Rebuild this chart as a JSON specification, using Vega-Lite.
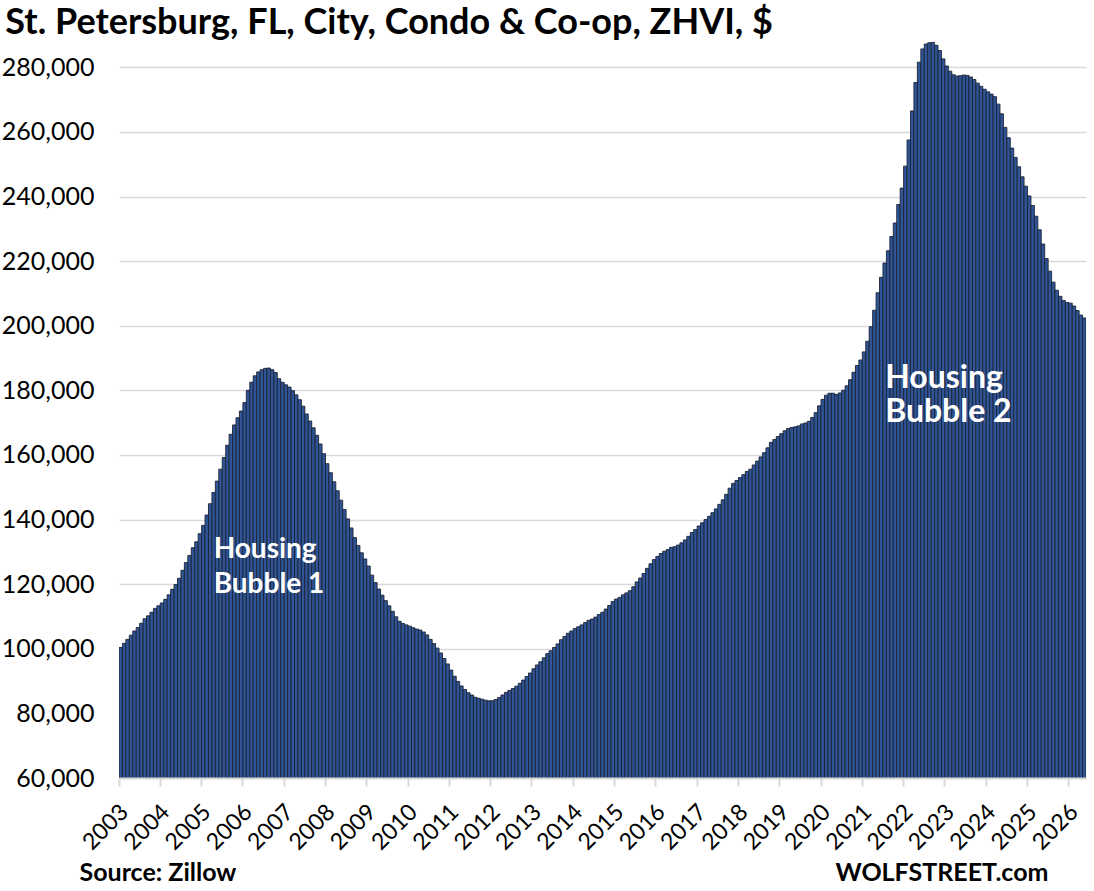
{
  "$schema": "https://vega.github.io/schema/vega-lite/v6.json",
  "description": "St. Petersburg, FL condo & co-op ZHVI, monthly bars",
  "background": "white",
  "autosize": {"type": "none"},
  "padding": {"left": 119, "top": 35, "right": 8, "bottom": 113},
  "width": 967,
  "height": 743,
  "title": {
    "text": "St. Petersburg, FL, City, Condo & Co-op, ZHVI, $",
    "font": "Lato",
    "fontSize": 36,
    "fontWeight": "bold",
    "color": "black",
    "anchor": "start",
    "frame": "bounds",
    "baseline": "alphabetic",
    "offset": 3,
    "dx": 4,
    "dy": 38
  },
  "config": {
    "view": {"stroke": null},
    "font": "Lato"
  },
  "layer": [
    {
      "data": {
        "values": [
          {"m":"2003-01","v":100400},{"m":"2003-02","v":101700},{"m":"2003-03","v":102900},{"m":"2003-04","v":104200},{"m":"2003-05","v":105500},{"m":"2003-06","v":106600},{"m":"2003-07","v":107900},{"m":"2003-08","v":109300},{"m":"2003-09","v":110200},{"m":"2003-10","v":111300},{"m":"2003-11","v":112500},{"m":"2003-12","v":113300},
          {"m":"2004-01","v":114200},{"m":"2004-02","v":115300},{"m":"2004-03","v":116700},{"m":"2004-04","v":118400},{"m":"2004-05","v":119900},{"m":"2004-06","v":121800},{"m":"2004-07","v":124300},{"m":"2004-08","v":126700},{"m":"2004-09","v":128900},{"m":"2004-10","v":131300},{"m":"2004-11","v":133100},{"m":"2004-12","v":135600},
          {"m":"2005-01","v":138200},{"m":"2005-02","v":141400},{"m":"2005-03","v":144900},{"m":"2005-04","v":148400},{"m":"2005-05","v":151900},{"m":"2005-06","v":155600},{"m":"2005-07","v":159200},{"m":"2005-08","v":163000},{"m":"2005-09","v":166400},{"m":"2005-10","v":169300},{"m":"2005-11","v":171500},{"m":"2005-12","v":173600},
          {"m":"2006-01","v":176200},{"m":"2006-02","v":180000},{"m":"2006-03","v":182500},{"m":"2006-04","v":184500},{"m":"2006-05","v":185700},{"m":"2006-06","v":186400},{"m":"2006-07","v":186800},{"m":"2006-08","v":186900},{"m":"2006-09","v":186400},{"m":"2006-10","v":185500},{"m":"2006-11","v":183600},{"m":"2006-12","v":182500},
          {"m":"2007-01","v":181700},{"m":"2007-02","v":181000},{"m":"2007-03","v":179900},{"m":"2007-04","v":178600},{"m":"2007-05","v":177100},{"m":"2007-06","v":175100},{"m":"2007-07","v":172700},{"m":"2007-08","v":170500},{"m":"2007-09","v":168400},{"m":"2007-10","v":166100},{"m":"2007-11","v":163400},{"m":"2007-12","v":160400},
          {"m":"2008-01","v":157300},{"m":"2008-02","v":154500},{"m":"2008-03","v":151700},{"m":"2008-04","v":148900},{"m":"2008-05","v":146000},{"m":"2008-06","v":143100},{"m":"2008-07","v":140200},{"m":"2008-08","v":137400},{"m":"2008-09","v":134400},{"m":"2008-10","v":132000},{"m":"2008-11","v":129700},{"m":"2008-12","v":127800},
          {"m":"2009-01","v":125600},{"m":"2009-02","v":122800},{"m":"2009-03","v":120500},{"m":"2009-04","v":118500},{"m":"2009-05","v":116600},{"m":"2009-06","v":114900},{"m":"2009-07","v":113300},{"m":"2009-08","v":111600},{"m":"2009-09","v":109900},{"m":"2009-10","v":108500},{"m":"2009-11","v":107800},{"m":"2009-12","v":107400},
          {"m":"2010-01","v":107000},{"m":"2010-02","v":106500},{"m":"2010-03","v":106100},{"m":"2010-04","v":105800},{"m":"2010-05","v":105200},{"m":"2010-06","v":104300},{"m":"2010-07","v":102900},{"m":"2010-08","v":101600},{"m":"2010-09","v":100200},{"m":"2010-10","v":98700},{"m":"2010-11","v":97000},{"m":"2010-12","v":95300},
          {"m":"2011-01","v":93400},{"m":"2011-02","v":91500},{"m":"2011-03","v":89900},{"m":"2011-04","v":88500},{"m":"2011-05","v":87400},{"m":"2011-06","v":86400},{"m":"2011-07","v":85700},{"m":"2011-08","v":85000},{"m":"2011-09","v":84700},{"m":"2011-10","v":84400},{"m":"2011-11","v":84100},{"m":"2011-12","v":83900},
          {"m":"2012-01","v":83900},{"m":"2012-02","v":84300},{"m":"2012-03","v":84900},{"m":"2012-04","v":85700},{"m":"2012-05","v":86500},{"m":"2012-06","v":87100},{"m":"2012-07","v":87700},{"m":"2012-08","v":88400},{"m":"2012-09","v":89300},{"m":"2012-10","v":90300},{"m":"2012-11","v":91400},{"m":"2012-12","v":92500},
          {"m":"2013-01","v":93800},{"m":"2013-02","v":95000},{"m":"2013-03","v":96000},{"m":"2013-04","v":97200},{"m":"2013-05","v":98500},{"m":"2013-06","v":99400},{"m":"2013-07","v":100400},{"m":"2013-08","v":101500},{"m":"2013-09","v":102800},{"m":"2013-10","v":103800},{"m":"2013-11","v":104800},{"m":"2013-12","v":105500},
          {"m":"2014-01","v":106300},{"m":"2014-02","v":106800},{"m":"2014-03","v":107400},{"m":"2014-04","v":108100},{"m":"2014-05","v":108800},{"m":"2014-06","v":109200},{"m":"2014-07","v":109800},{"m":"2014-08","v":110600},{"m":"2014-09","v":111300},{"m":"2014-10","v":112300},{"m":"2014-11","v":113400},{"m":"2014-12","v":114600},
          {"m":"2015-01","v":115400},{"m":"2015-02","v":115900},{"m":"2015-03","v":116700},{"m":"2015-04","v":117300},{"m":"2015-05","v":118000},{"m":"2015-06","v":119200},{"m":"2015-07","v":120700},{"m":"2015-08","v":121900},{"m":"2015-09","v":123300},{"m":"2015-10","v":124900},{"m":"2015-11","v":126300},{"m":"2015-12","v":127600},
          {"m":"2016-01","v":128600},{"m":"2016-02","v":129500},{"m":"2016-03","v":130200},{"m":"2016-04","v":130700},{"m":"2016-05","v":131400},{"m":"2016-06","v":131600},{"m":"2016-07","v":132100},{"m":"2016-08","v":132800},{"m":"2016-09","v":133700},{"m":"2016-10","v":134800},{"m":"2016-11","v":136000},{"m":"2016-12","v":136900},
          {"m":"2017-01","v":138000},{"m":"2017-02","v":139000},{"m":"2017-03","v":140000},{"m":"2017-04","v":141000},{"m":"2017-05","v":142100},{"m":"2017-06","v":143300},{"m":"2017-07","v":144700},{"m":"2017-08","v":146100},{"m":"2017-09","v":147800},{"m":"2017-10","v":149700},{"m":"2017-11","v":151200},{"m":"2017-12","v":152100},
          {"m":"2018-01","v":153000},{"m":"2018-02","v":153900},{"m":"2018-03","v":154900},{"m":"2018-04","v":155600},{"m":"2018-05","v":156900},{"m":"2018-06","v":158100},{"m":"2018-07","v":159400},{"m":"2018-08","v":160700},{"m":"2018-09","v":162200},{"m":"2018-10","v":163900},{"m":"2018-11","v":164800},{"m":"2018-12","v":165700},
          {"m":"2019-01","v":166600},{"m":"2019-02","v":167500},{"m":"2019-03","v":168200},{"m":"2019-04","v":168500},{"m":"2019-05","v":168700},{"m":"2019-06","v":169000},{"m":"2019-07","v":169600},{"m":"2019-08","v":169900},{"m":"2019-09","v":170400},{"m":"2019-10","v":171600},{"m":"2019-11","v":173100},{"m":"2019-12","v":175200},
          {"m":"2020-01","v":177200},{"m":"2020-02","v":178500},{"m":"2020-03","v":179100},{"m":"2020-04","v":179100},{"m":"2020-05","v":178700},{"m":"2020-06","v":179200},{"m":"2020-07","v":180000},{"m":"2020-08","v":181400},{"m":"2020-09","v":183300},{"m":"2020-10","v":185600},{"m":"2020-11","v":187700},{"m":"2020-12","v":189400},
          {"m":"2021-01","v":191900},{"m":"2021-02","v":195200},{"m":"2021-03","v":199700},{"m":"2021-04","v":204800},{"m":"2021-05","v":210200},{"m":"2021-06","v":215000},{"m":"2021-07","v":219400},{"m":"2021-08","v":223200},{"m":"2021-09","v":227600},{"m":"2021-10","v":231800},{"m":"2021-11","v":237500},{"m":"2021-12","v":242600},
          {"m":"2022-01","v":249400},{"m":"2022-02","v":257500},{"m":"2022-03","v":266500},{"m":"2022-04","v":275300},{"m":"2022-05","v":281600},{"m":"2022-06","v":285700},{"m":"2022-07","v":287200},{"m":"2022-08","v":287600},{"m":"2022-09","v":287700},{"m":"2022-10","v":286800},{"m":"2022-11","v":285200},{"m":"2022-12","v":282600},
          {"m":"2023-01","v":280400},{"m":"2023-02","v":278800},{"m":"2023-03","v":277700},{"m":"2023-04","v":277300},{"m":"2023-05","v":277400},{"m":"2023-06","v":277600},{"m":"2023-07","v":277500},{"m":"2023-08","v":277000},{"m":"2023-09","v":276200},{"m":"2023-10","v":275100},{"m":"2023-11","v":274100},{"m":"2023-12","v":273200},
          {"m":"2024-01","v":272400},{"m":"2024-02","v":271700},{"m":"2024-03","v":270900},{"m":"2024-04","v":268600},{"m":"2024-05","v":265600},{"m":"2024-06","v":261400},{"m":"2024-07","v":258200},{"m":"2024-08","v":255000},{"m":"2024-09","v":252100},{"m":"2024-10","v":249200},{"m":"2024-11","v":246100},{"m":"2024-12","v":243200},
          {"m":"2025-01","v":240200},{"m":"2025-02","v":237200},{"m":"2025-03","v":233900},{"m":"2025-04","v":229700},{"m":"2025-05","v":225300},{"m":"2025-06","v":220800},{"m":"2025-07","v":216900},{"m":"2025-08","v":213500},{"m":"2025-09","v":211000},{"m":"2025-10","v":209100},{"m":"2025-11","v":207800},{"m":"2025-12","v":207200},
          {"m":"2026-01","v":207000},{"m":"2026-02","v":206100},{"m":"2026-03","v":204700},{"m":"2026-04","v":203300},{"m":"2026-05","v":202400}
        ]
      },
      "mark": {"type": "bar", "fill": "#2f5597", "stroke": "#1c2333", "strokeWidth": 0.9, "clip": true},
      "encoding": {
        "x": {
          "field": "m",
          "type": "ordinal",
          "sort": "ascending",
          "scale": {"paddingInner": 0, "paddingOuter": 0},
          "axis": {
            "values": ["2003-01","2004-01","2005-01","2006-01","2007-01","2008-01","2009-01","2010-01","2011-01","2012-01","2013-01","2014-01","2015-01","2016-01","2017-01","2018-01","2019-01","2020-01","2021-01","2022-01","2023-01","2024-01","2025-01","2026-01"],
            "labelExpr": "substring(datum.value, 0, 4)",
            "bandPosition": 0,
            "labelAngle": -45,
            "labelAlign": "right",
            "labelBaseline": "middle",
            "labelFontSize": 23,
            "labelColor": "black",
            "labelPadding": 22,
            "labelOffset": 4,
            "domainColor": "#d9d9d9",
            "domainWidth": 2,
            "tickColor": "#d9d9d9",
            "tickWidth": 2,
            "tickSize": 8,
            "grid": false,
            "zindex": 1,
            "title": "Source: Zillow",
            "titleFont": "Lato",
            "titleFontSize": 25,
            "titleFontWeight": "bold",
            "titleColor": "black",
            "titleAlign": "left",
            "titleBaseline": "alphabetic",
            "titleX": -40,
            "titleY": 102
          }
        },
        "y": {
          "field": "v",
          "type": "quantitative",
          "scale": {"domain": [60000, 290000], "nice": false, "zero": false},
          "axis": {
            "values": [60000, 80000, 100000, 120000, 140000, 160000, 180000, 200000, 220000, 240000, 260000, 280000],
            "format": ",.0f",
            "labelFontSize": 25,
            "labelColor": "black",
            "labelPadding": 25,
            "ticks": false,
            "domain": false,
            "gridColor": "#d9d9d9",
            "gridWidth": 1.5,
            "title": "WOLFSTREET.com",
            "titleAngle": 0,
            "titleFont": "Lato",
            "titleFontSize": 25,
            "titleFontWeight": "bold",
            "titleColor": "black",
            "titleAlign": "right",
            "titleBaseline": "alphabetic",
            "titleX": 929,
            "titleY": 845
          }
        }
      }
    },
    {
      "data": {"values": [{"m": "2005-04", "v": 128100, "t": ["Housing", "Bubble 1"]}]},
      "mark": {"type": "text", "align": "left", "baseline": "alphabetic", "fontSize": 28, "fontWeight": "bold", "font": "Lato", "fill": "white", "lineHeight": 35},
      "encoding": {
        "x": {"field": "m", "type": "ordinal"},
        "y": {"field": "v", "type": "quantitative"},
        "text": {"field": "t"}
      }
    },
    {
      "data": {"values": [{"m": "2021-08", "v": 180700, "t": ["Housing", "Bubble 2"]}]},
      "mark": {"type": "text", "align": "left", "baseline": "alphabetic", "dx": -3, "fontSize": 32, "fontWeight": "bold", "font": "Lato", "fill": "white", "lineHeight": 34},
      "encoding": {
        "x": {"field": "m", "type": "ordinal"},
        "y": {"field": "v", "type": "quantitative"},
        "text": {"field": "t"}
      }
    }
  ]
}
